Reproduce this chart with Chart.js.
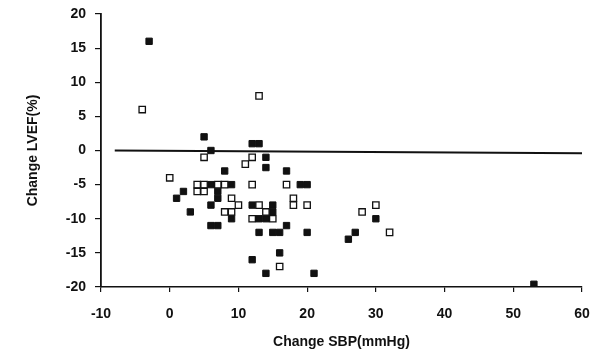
<!DOCTYPE html>
<html>
<head>
<meta charset="utf-8">
<script src="https://cdn.jsdelivr.net/npm/chart.js@4/dist/chart.umd.min.js"></script>
<style>
  html, body { margin: 0; padding: 0; background: #fff; }
  #wrap { width: 601px; height: 355px; }
</style>
</head>
<body>
<div id="wrap"><canvas id="chart" width="601" height="355"></canvas></div>
<script>
// filled squares
const filledX = [-3, 5, 6, 12, 13, 14, 14, 8, 17, 6, 9, 19, 20, 2, 7, 1, 7, 6, 12, 15, 3, 15, 9, 13, 14, 6, 7, 17, 13, 15, 16, 20, 30, 27, 26, 16, 12, 14, 21, 53];
const filledY = [16, 2, 0, 1, 1, -1, -2.5, -3, -3, -5, -5, -5, -5, -6, -6, -7, -7, -8, -8, -8, -9, -9, -10, -10, -10, -11, -11, -11, -12, -12, -12, -12, -10, -12, -13, -15, -16, -18, -18, -19.6];
// open squares
const openX = [-4, 13, 5, 12, 11, 0, 4, 5, 7, 8, 12, 17, 4, 5, 9, 18, 10, 13, 18, 20, 8, 9, 14, 12, 15, 28, 30, 32, 16];
const openY = [6, 8, -1, -1, -2, -4, -5, -5, -5, -5, -5, -5, -6, -6, -7, -7, -8, -8, -8, -8, -9, -9, -9, -10, -10, -9, -8, -12, -17];
// reference line
const refX = [-8, 60];
const refY = [0, -0.4];

const xTicks = [-10, 0, 10, 20, 30, 40, 50, 60];
const yTicks = [-20, -15, -10, -5, 0, 5, 10, 15, 20];

const toPoints = (xs, ys) => xs.map((x, i) => ({ x: x, y: ys[i] }));

const font = { family: 'Liberation Sans, Arial, sans-serif', size: 14, weight: 'bold' };

new Chart(document.getElementById('chart').getContext('2d'), {
  type: 'scatter',
  data: {
    datasets: [
      {
        type: 'line',
        data: toPoints(refX, refY),
        borderColor: '#111',
        borderWidth: 2,
        pointRadius: 0,
        fill: false
      },
      {
        data: toPoints(openX, openY),
        pointStyle: 'rect',
        pointRadius: 4.5,
        backgroundColor: '#fff',
        borderColor: '#111',
        borderWidth: 1.3
      },
      {
        data: toPoints(filledX, filledY),
        pointStyle: 'rect',
        pointRadius: 4.5,
        backgroundColor: '#111',
        borderColor: '#111',
        borderWidth: 1
      }
    ]
  },
  options: {
    responsive: false,
    animation: false,
    layout: { padding: { top: 14, right: 19, left: 0, bottom: 0 } },
    plugins: { legend: { display: false }, tooltip: { enabled: false } },
    scales: {
      x: {
        type: 'linear',
        min: -10,
        max: 60,
        afterBuildTicks: s => { s.ticks = xTicks.map(v => ({ value: v })); },
        afterFit: s => { s.height = 68; s.paddingLeft = 0; s.paddingRight = 0; },
        border: { color: '#111', width: 1.5 },
        grid: { drawOnChartArea: false, color: '#111', tickLength: 5, lineWidth: 1.2 },
        ticks: { color: '#111', font: font, padding: 14, maxRotation: 0 },
        title: { display: true, text: 'Change SBP(mmHg)', color: '#111', font: font, padding: { top: 4, bottom: 4 } }
      },
      y: {
        type: 'linear',
        min: -20,
        max: 20,
        afterBuildTicks: s => { s.ticks = yTicks.map(v => ({ value: v })); },
        afterFit: s => { s.width = 101; s.paddingTop = 0; s.paddingBottom = 0; },
        border: { color: '#111', width: 1.8 },
        grid: { drawOnChartArea: false, color: '#111', tickLength: 6, lineWidth: 1.2 },
        ticks: { color: '#111', font: font, padding: 9 },
        title: { display: true, text: 'Change LVEF(%)', color: '#111', font: font, padding: { top: 25, bottom: 25 } }
      }
    }
  }
});
</script>
</body>
</html>
